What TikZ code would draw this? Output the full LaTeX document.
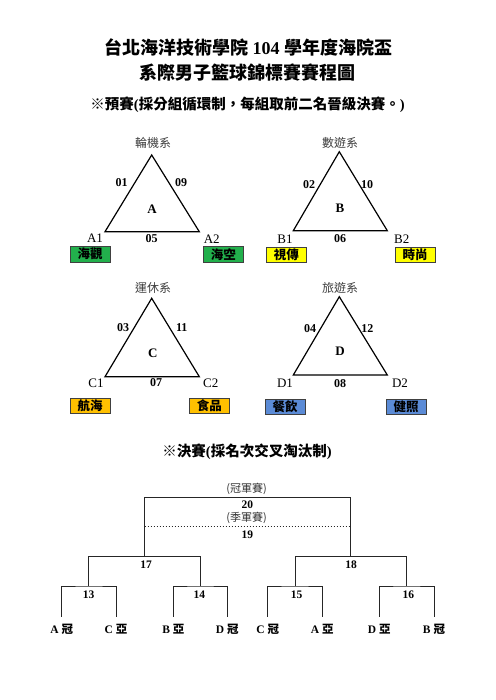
\documentclass[tikz,border=0pt]{standalone}
\usepackage{fontspec}
\usepackage{xcolor}
\setmainfont{Liberation Serif}
\newfontfamily\cjk{Noto Sans CJK TC}
\definecolor{grA}{HTML}{22B04C}
\definecolor{ylB}{HTML}{FFFF00}
\definecolor{orC}{HTML}{FFC000}
\definecolor{blD}{HTML}{5B8BD6}
\tikzset{
    TI1/.style ={font=\fontsize{18pt}{20pt}\selectfont\bfseries},
    TI2/.style ={font=\fontsize{14.5pt}{16pt}\selectfont\bfseries},
    DP1/.style ={font=\cjk\fontsize{12pt}{14pt}\selectfont, text=black!75},
    NU1/.style ={font=\fontsize{12pt}{14pt}\selectfont\bfseries},
    GR1/.style ={font=\fontsize{13pt}{15pt}\selectfont\bfseries},
    VX1/.style ={font=\fontsize{13pt}{15pt}\selectfont},
    RA1/.style ={rectangle,minimum width = 40pt, minimum height = 15pt, inner sep=0pt, draw=black!75,
                 font=\cjk\fontsize{12.5pt}{14pt}\selectfont\bfseries},
    SM1/.style ={font=\cjk\fontsize{11pt}{13pt}\selectfont, text=black!80},
    NU2/.style ={font=\fontsize{11.5pt}{13pt}\selectfont\bfseries},
    LF1/.style ={font=\fontsize{11.5pt}{13pt}\selectfont\bfseries},
    TR1/.style ={line width=1.2pt, line join=miter},
    BR1/.style ={line width=1pt, draw=black!85}
}
\newcommand{\ck}[1]{{\cjk #1}}

\begin{document}
\begin{tikzpicture}[x=1pt,y=-1pt]
        \useasboundingbox[fill=white] (0,0) rectangle (495,700);
        % titles
        \node[TI1] (t1) at(248,47) {\ck{台北海洋技術學院} 104 \ck{學年度海院盃}};
        \node[TI1] (t2) at(247.5,72.5) {\ck{系際男子籃球錦標賽賽程圖}};
        \node[TI2] (t3) at(247.5,105) {\ck{※預賽}(\ck{採分組循環制，每組取前二名晉級決賽。})};
        % group A
        \coordinate (A0) at (151.7,155);
        \coordinate (A1) at (105,231.7);
        \coordinate (A2) at (199.3,231.7);
        \draw[TR1] (A0)--(A1)--(A2)--cycle;
        \node[DP1] (dA) at(153,143) {輪機系};
        \node[NU1] (a01) at(121.7,183) {01};
        \node[NU1] (a09) at(181,183) {09};
        \node[NU1] (a05) at(151.7,239) {05};
        \node[GR1] (gA) at(152,209) {A};
        \node[VX1] (vA1) at(95,238.5) {A1};
        \node[VX1] (vA2) at(211.7,239) {A2};
        \node[RA1,fill=grA] (bA1) at(90,254.2) {海觀};
        \node[RA1,fill=grA] (bA2) at(223.3,254.2) {海空};
        % group B
        \coordinate (B0) at (339.3,151.7);
        \coordinate (B1) at (293.3,230.7);
        \coordinate (B2) at (387.3,230.7);
        \draw[TR1] (B0)--(B1)--(B2)--cycle;
        \node[DP1] (dB) at(340,142.7) {數遊系};
        \node[NU1] (b02) at(309,185) {02};
        \node[NU1] (b10) at(367,185) {10};
        \node[NU1] (b06) at(340,239) {06};
        \node[GR1] (gB) at(340,208) {B};
        \node[VX1] (vB1) at(285,239) {B1};
        \node[VX1] (vB2) at(401.7,239) {B2};
        \node[RA1,fill=ylB] (bB1) at(286.3,254.8) {視傳};
        \node[RA1,fill=ylB] (bB2) at(415,254.8) {時尚};
        % group C
        \coordinate (C0) at (151.7,298.3);
        \coordinate (C1) at (105,376.7);
        \coordinate (C2) at (199.3,376.7);
        \draw[TR1] (C0)--(C1)--(C2)--cycle;
        \node[DP1] (dC) at(153,287.7) {運休系};
        \node[NU1] (c03) at(123,328) {03};
        \node[NU1] (c11) at(181.7,328) {11};
        \node[NU1] (c07) at(156,383) {07};
        \node[GR1] (gC) at(152.7,353) {C};
        \node[VX1] (vC1) at(96,383) {C1};
        \node[VX1] (vC2) at(210.7,383) {C2};
        \node[RA1,fill=orC] (bC1) at(90,405.8) {航海};
        \node[RA1,fill=orC] (bC2) at(209.3,405.8) {食品};
        % group D
        \coordinate (D0) at (339.3,296.7);
        \coordinate (D1) at (293.3,375);
        \coordinate (D2) at (387.3,375);
        \draw[TR1] (D0)--(D1)--(D2)--cycle;
        \node[DP1] (dD) at(340,287.7) {旅遊系};
        \node[NU1] (d04) at(310,329) {04};
        \node[NU1] (d12) at(367.3,329) {12};
        \node[NU1] (d08) at(340,383.3) {08};
        \node[GR1] (gD) at(340,351.7) {D};
        \node[VX1] (vD1) at(285,383.3) {D1};
        \node[VX1] (vD2) at(400,383.3) {D2};
        \node[RA1,fill=blD] (bD1) at(285,406.7) {餐飲};
        \node[RA1,fill=blD] (bD2) at(406,406.7) {健照};
        % finals
        \node[TI2] (t4) at(247,451.7) {\ck{※決賽}(\ck{採名次交叉淘汰制})};
        \node[LF1] (l1) at(61.7,629) {A \ck{冠}};
        \node[LF1] (l2) at(116,629) {C \ck{亞}};
        \node[LF1] (l3) at(173.3,629) {B \ck{亞}};
        \node[LF1] (l4) at(227.3,629) {D \ck{冠}};
        \node[LF1] (l5) at(267.7,629) {C \ck{冠}};
        \node[LF1] (l6) at(322.3,629) {A \ck{亞}};
        \node[LF1] (l7) at(379.3,629) {D \ck{亞}};
        \node[LF1] (l8) at(434,629) {B \ck{冠}};
        \foreach \i in {1,...,8}
            \coordinate (e\i) at ([yshift=12.3pt]l\i.center);
        \coordinate (j13) at (88.9,586);
        \coordinate (j14) at (200.3,586);
        \coordinate (j15) at (295,586);
        \coordinate (j16) at (406.7,586);
        \coordinate (j17) at (144.6,556.7);
        \coordinate (j18) at (350.9,556.7);
        \coordinate (j20) at (247.5,497.7);
        \draw[BR1] (e1) |- (j13) -| (e2);
        \draw[BR1] (e3) |- (j14) -| (e4);
        \draw[BR1] (e5) |- (j15) -| (e6);
        \draw[BR1] (e7) |- (j16) -| (e8);
        \draw[BR1] (j13) |- (j17) -| (j14);
        \draw[BR1] (j15) |- (j18) -| (j16);
        \draw[BR1] (j17) |- (j20) -| (j18);
        \coordinate (s19L) at (144.6,526);
        \coordinate (s19R) at (350.9,526);
        \draw[BR1,dotted,line width=0.9pt] (s19L) -- (s19R);
        \node[NU2] (n13) at(88.5,594.3) {13};
        \node[NU2] (n14) at(199.3,594.3) {14};
        \node[NU2] (n15) at(296.7,594.3) {15};
        \node[NU2] (n16) at(408.3,594.3) {16};
        \node[NU2] (n17) at(146,565) {17};
        \node[NU2] (n18) at(351,565) {18};
        \node[NU2] (n20) at(247.3,504.5) {20};
        \node[NU2] (n19) at(247.3,534.5) {19};
        \node[SM1] (k20) at(246.7,489.3) {(冠軍賽)};
        \node[SM1] (k19) at(246.7,518.3) {(季軍賽)};
    \end{tikzpicture}
\end{document}
